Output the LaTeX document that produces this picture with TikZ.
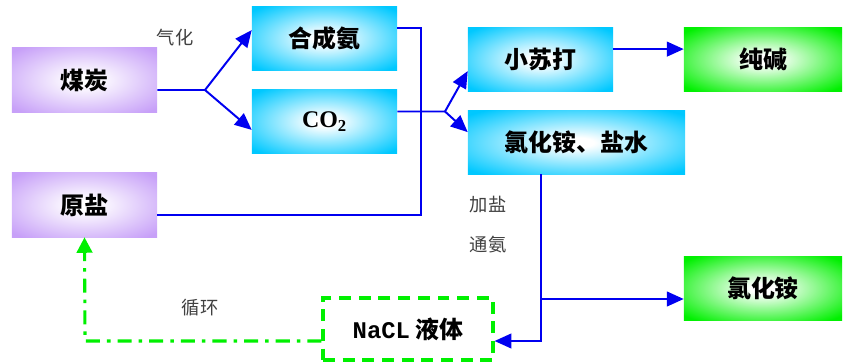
\documentclass[tikz,border=0pt]{standalone}
\usepackage{fontspec}
\setmainfont{Noto Sans CJK SC}
\newfontfamily\serifb{Liberation Serif}
\newfontfamily\monob{Liberation Mono}
\usetikzlibrary{arrows.meta}

\definecolor{lilac}{HTML}{C7A0F8}
\definecolor{skyc}{HTML}{00C8FF}
\definecolor{limeg}{HTML}{00F000}
\definecolor{linkb}{HTML}{0000F0}

% soft glow: white centre fading to the box colour at the edges
\pgfdeclareradialshading{glowlilac}{\pgfpointorigin}{color(0bp)=(white); color(4bp)=(white); color(33bp)=(lilac); color(100bp)=(lilac)}
\pgfdeclareradialshading{glowsky}{\pgfpointorigin}{color(0bp)=(white); color(4bp)=(white); color(33bp)=(skyc); color(100bp)=(skyc)}
\pgfdeclareradialshading{glowlime}{\pgfpointorigin}{color(0bp)=(white); color(4bp)=(white); color(33bp)=(limeg); color(100bp)=(limeg)}

\tikzset{
  box/.style={inner sep=0pt, minimum height=1.575cm,
    font=\fontsize{17}{20}\selectfont\bfseries},
  rawbox/.style={box, shading=glowlilac, minimum width=3.625cm, minimum height=1.6cm},
  midbox/.style={box, shading=glowsky, minimum width=3.625cm},
  endbox/.style={box, shading=glowlime, minimum width=3.95cm},
  note/.style={text=black!75, font=\fontsize{13}{15}\selectfont},
  link/.style={draw=linkb, line width=1.4pt},
  arrow/.style={link, -{Triangle[length=12pt,width=10.5pt]}},
  loopback/.style={draw=limeg, line width=2.2pt,
    dash pattern=on 10pt off 5pt on 2.5pt off 5pt,
    -{Triangle[length=11pt,width=11pt]}}
}

\begin{document}
\begin{tikzpicture}[x=0.025cm, y=-0.025cm]
  \useasboundingbox (0,0) rectangle (843,362);

  % raw materials
  \node[rawbox] (coal) at (84.5,80) {煤炭};
  \node[rawbox] (salt) at (84.5,205) {原盐};

  % intermediates
  \node[midbox] (ammonia) at (324.5,38.5) {合成氨};
  \node[midbox] (co2) at (324.5,121.5) {\serifb CO\textsubscript{2}};
  \node[midbox] (soda) at (540.5,59.5) {小苏打};
  \node[midbox, minimum width=5.425cm] (brine) at (576.5,142.5) {氯化铵、盐水};

  % products
  \node[endbox] (ash) at (763,59.5) {纯碱};
  \node[endbox] (chloride) at (763,288.5) {氯化铵};
  \node[draw=limeg, line width=2.2pt, dash pattern=on 8.5pt off 5.5pt,
    minimum width=4.25cm, minimum height=1.55cm, inner sep=0pt,
    font=\fontsize{17}{20}\selectfont\bfseries] (nacl) at (408,329)
    {{\monob NaCL} 液体};

  % labels
  \node[note] (gasify) at (175,38) {气化};
  \node[note] (addsalt) at (488,205) {加盐};
  \node[note] (addnh3) at (488,245) {通氨};
  \node[note] (recycle) at (200,308) {循环};

  % turning points
  \coordinate (fork1) at (205,90);
  \coordinate (fork2) at (445,111.5);
  \coordinate (j1) at (421,215);
  \coordinate (j2) at (541,341);
  \coordinate (j3) at (541,299);
  \coordinate (j4) at (85,341);

  % connectors
  \draw[link] ([yshift=-0.25cm]coal.east) -- (fork1);
  \draw[arrow] (fork1) -- ([yshift=0.21cm]ammonia.west);
  \draw[arrow] (fork1) -- ([yshift=-0.21cm]co2.west);
  \draw[link] ([yshift=0.26cm]ammonia.east) -| (j1) -- (j1 -| salt.east);
  \draw[link] ([yshift=0.25cm]co2.east) -- (fork2);
  \draw[arrow] (fork2) -- ([yshift=-0.29cm]soda.west);
  \draw[arrow] (fork2) -- ([yshift=0.26cm]brine.west);
  \draw[arrow] ([yshift=0.26cm]soda.east) -- ([yshift=0.26cm]ash.west);
  \draw[arrow] (brine.south -| j2) -- (j2) -- (j2 -| nacl.east);
  \draw[arrow] (j3) -- (j3 -| chloride.west);
  \draw[loopback] (j4 -| nacl.west) -- (j4) -- (salt.south);
\end{tikzpicture}
\end{document}
